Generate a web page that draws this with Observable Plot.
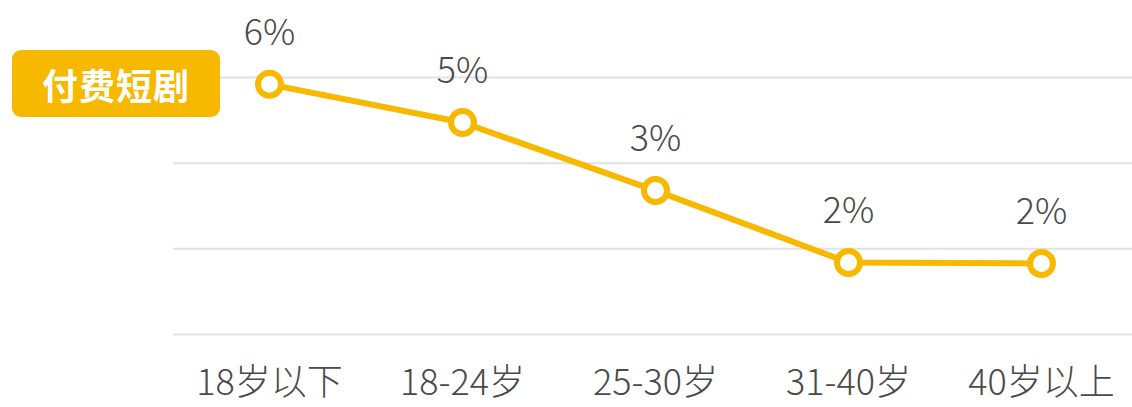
<!DOCTYPE html>
<html>
<head>
<meta charset="utf-8">
<script src="https://cdn.jsdelivr.net/npm/d3@7"></script>
<script src="https://cdn.jsdelivr.net/npm/@observablehq/plot@0.6"></script>
<style>
  html, body { margin: 0; padding: 0; background: #fff; }
  #wrap { position: relative; width: 1132px; height: 407px; overflow: hidden; }
  #badge {
    position: absolute; left: 12px; top: 50px; width: 208px; height: 67px;
    background: #f7b800; border-radius: 9px; color: #fff;
    font-family: "Noto Sans CJK SC", sans-serif; font-weight: 700; font-size: 36px;
    display: flex; align-items: center; justify-content: center; letter-spacing: 1px;
  }
</style>
</head>
<body>
<div id="wrap"><div id="chart"></div><div id="badge">付费短剧</div></div>
<script>
const categories = ["18岁以下", "18-24岁", "25-30岁", "31-40岁", "40岁以上"];
const values = [5.84, 4.95, 3.36, 1.68, 1.66];
const labels = ["6%", "5%", "3%", "2%", "2%"];
const gridValues = [0, 2, 4, 6];

const data = categories.map((c, i) => ({ cat: c, v: values[i], label: labels[i] }));
const color = "#f7b800";
const font = '"Noto Sans CJK SC", sans-serif';

const chart = Plot.plot({
  width: 1132,
  height: 407,
  marginLeft: 173,
  marginRight: 0,
  marginTop: 77,
  marginBottom: 73,
  style: { fontFamily: font, background: "transparent", overflow: "visible" },
  x: { type: "point", domain: categories, padding: 0, insetLeft: 95, insetRight: 91 },
  y: { domain: [0, 6], axis: null },
  marks: [
    Plot.ruleY(gridValues, { stroke: "#e2e2e6", strokeWidth: 2 }),
    Plot.axisX({ tickSize: 0, tickPadding: 35, fontSize: 36, fontWeight: 300, fill: "#4a4a4a", label: null }),
    Plot.line(data, { x: "cat", y: "v", stroke: color, strokeWidth: 6 }),
    Plot.dot(data, { x: "cat", y: "v", r: 11.5, stroke: color, strokeWidth: 6, fill: "#fff" }),
    Plot.text(data, { x: "cat", y: "v", text: "label", dy: -51, fontSize: 36, fontWeight: 300, fill: "#4a4a4a" })
  ]
});
document.getElementById("chart").appendChild(chart);
</script>
</body>
</html>
